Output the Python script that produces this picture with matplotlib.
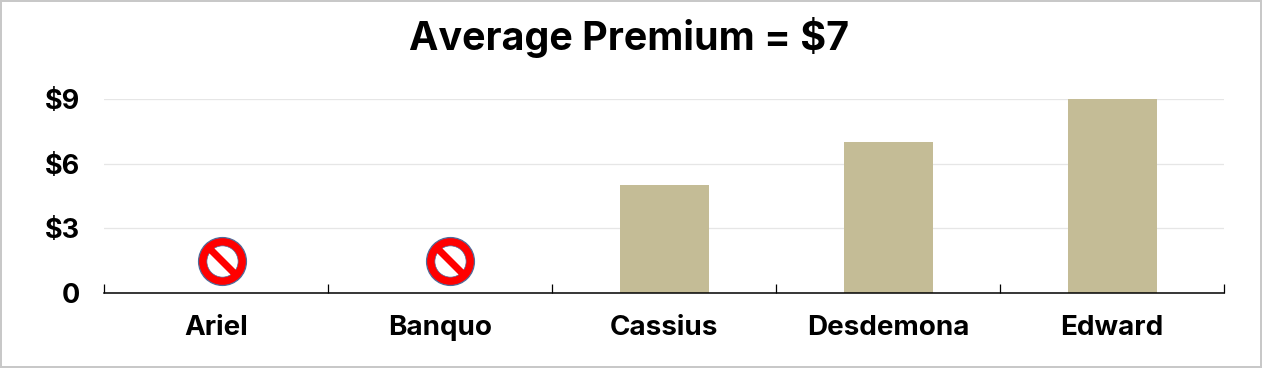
import matplotlib
matplotlib.use("Agg")
import matplotlib.pyplot as plt
from matplotlib.markers import MarkerStyle
from matplotlib.transforms import Affine2D
import numpy as np

names = ["Ariel", "Banquo", "Cassius", "Desdemona", "Edward"]
premiums = [0, 0, 5, 7, 9]
sign_x = [0.026, 1.044]
sign_level = [1.47, 1.47]
yticks = [0, 3, 6, 9]
ylabels = ["0", "$3", "$6", "$9"]

plt.rcParams["font.family"] = ["Inter", "Lato", "DejaVu Sans"]
plt.rcParams["font.weight"] = "bold"

W, H = 1262, 368
fig = plt.figure(figsize=(W / 100, H / 100), dpi=100, facecolor="white",
                 edgecolor="#c8c8c8", linewidth=1.5)
ax = fig.add_axes([104 / W, 1 - 293 / H, 1120 / W, 194 / H])

x = np.arange(len(names))
ax.bar(x + 0.003, premiums, width=0.4, color="#c4bc96", zorder=2)

# no-entry signs for the two people with no premium
ax.plot(sign_x, sign_level, "o", ms=34.5, mfc="#ff0000", mec="#4f6b9a", mew=0.9, ls="none", zorder=3)
ax.plot(sign_x, sign_level, "o", ms=22.5, mfc="white", mec="#4f6b9a", mew=0.5, ls="none", zorder=4)
slash = MarkerStyle("s", transform=Affine2D().scale(1, 0.21).rotate_deg(-45))
ax.plot(sign_x, sign_level, ls="none", marker=slash, ms=26, mfc="#ff0000", mec="none", zorder=5)

ax.set_xlim(-0.5, 4.5)
ax.set_ylim(0, 9)
ax.set_xticks(np.arange(-0.5, 5, 1))
ax.set_xticklabels([])
ax.set_xticks(x, minor=True)
ax.set_xticklabels(names, minor=True, fontsize=20)
ax.tick_params(axis="x", which="major", direction="in", length=6.5, width=0.9, color="black")
ax.tick_params(axis="x", which="minor", length=0, pad=16)
ax.set_yticks(yticks)
ax.set_yticklabels(ylabels, fontsize=19.5)
ax.tick_params(axis="y", length=0, pad=17.5)
ax.yaxis.grid(True, color="#e6e6e6", lw=0.9, zorder=0)
ax.set_axisbelow(True)

for side in ["top", "left", "right"]:
    ax.spines[side].set_visible(False)
ax.spines["bottom"].set_linewidth(1.1)

fig.text(629 / W, 1 - 37 / H, "Average Premium = $7", ha="center", va="center",
         fontsize=28.4, parse_math=False)
for lab in ax.get_yticklabels():
    lab.set_parse_math(False)

fig.savefig("out.png", dpi=100)
